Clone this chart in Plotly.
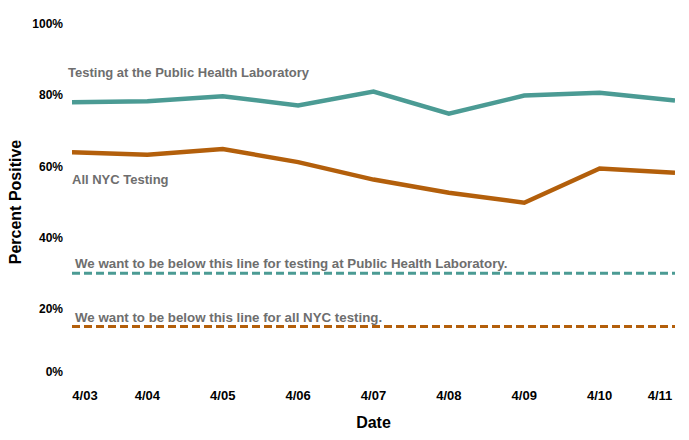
import plotly.graph_objects as go

# ---- data ----
dates = ["4/03", "4/04", "4/05", "4/06", "4/07", "4/08", "4/09", "4/10", "4/11"]
phl_pct = [78.0, 78.3, 79.7, 77.1, 81.0, 74.8, 79.9, 80.7, 78.5]
nyc_pct = [64.0, 63.3, 64.9, 61.2, 56.3, 52.6, 49.8, 59.4, 58.2]
phl_target = 30
nyc_target = 15
y_tick_vals = [0, 20, 40, 60, 80, 100]
y_tick_text = ["0%", "20%", "40%", "60%", "80%", "100%"]

TEAL = "#4b9b94"
ORANGE = "#b35f0b"
GREY = "#6e6e6e"
FONT = "Liberation Sans, Arial, sans-serif"

fig = go.Figure()

fig.add_trace(go.Scatter(x=dates, y=[phl_target] * len(dates), mode="lines",
                         line=dict(color=TEAL, width=3, dash="8px,4px"),
                         hoverinfo="skip", showlegend=False))
fig.add_trace(go.Scatter(x=dates, y=[nyc_target] * len(dates), mode="lines",
                         line=dict(color=ORANGE, width=3, dash="8px,4px"),
                         hoverinfo="skip", showlegend=False))
fig.add_trace(go.Scatter(x=dates, y=phl_pct, mode="lines", name="Testing at the Public Health Laboratory",
                         line=dict(color=TEAL, width=4.5), showlegend=False))
fig.add_trace(go.Scatter(x=dates, y=nyc_pct, mode="lines", name="All NYC Testing",
                         line=dict(color=ORANGE, width=4.5), showlegend=False))

# invisible helper traces so the overlay axes (flush edge labels) get drawn
fig.add_trace(go.Scatter(x=dates, y=phl_pct, xaxis="x2", yaxis="y2", mode="lines",
                         line=dict(width=0), opacity=0, hoverinfo="skip", showlegend=False))
fig.add_trace(go.Scatter(x=dates, y=phl_pct, xaxis="x3", yaxis="y2", mode="lines",
                         line=dict(width=0), opacity=0, hoverinfo="skip", showlegend=False))

tick_font_x = dict(family=FONT, size=13, color="black", weight="bold")
tick_font_y = dict(family=FONT, size=12, color="black", weight="bold")
x_range = [0, len(dates) - 1]

common_x = dict(type="category", categoryorder="array", categoryarray=dates, range=x_range,
                showgrid=False, zeroline=False, showline=False, ticks="",
                tickfont=tick_font_x, ticklabelstandoff=6, fixedrange=True)

fig.update_layout(
    width=689, height=440,
    margin=dict(l=72, r=14, t=24, b=60),
    plot_bgcolor="white", paper_bgcolor="white",
    font=dict(family=FONT),
    xaxis=dict(**common_x, tickvals=dates[1:-1], automargin=True,
               title=dict(text="Date", font=dict(family=FONT, size=16, color="black", weight="bold"),
                          standoff=14)),
    xaxis2=dict(**common_x, overlaying="x", anchor="y", side="bottom", automargin=False,
                tickvals=[dates[0]], ticklabelshift=13),
    xaxis3=dict(**common_x, overlaying="x", anchor="y", side="bottom", automargin=False,
                tickvals=[dates[-1]], ticklabelshift=-15),
    yaxis=dict(range=[0, 100], tickvals=y_tick_vals[1:], ticktext=y_tick_text[1:],
               showgrid=False, zeroline=False, showline=False, ticks="", automargin=True,
               tickfont=tick_font_y, ticklabelstandoff=8, fixedrange=True,
               title=dict(text="Percent Positive",
                          font=dict(family=FONT, size=16, color="black", weight="bold"),
                          standoff=6)),
    yaxis2=dict(range=[0, 100], overlaying="y", anchor="x", side="left",
                tickvals=y_tick_vals[:1], ticktext=y_tick_text[:1], automargin=False,
                showgrid=False, zeroline=False, showline=False, ticks="",
                tickfont=tick_font_y, ticklabelstandoff=8, ticklabelshift=-8, fixedrange=True),
)

ann_font = dict(family=FONT, size=13, color=GREY, weight="bold")
annotations = [
    ("Testing at the Public Health Laboratory", 86.4, -6, 13),
    ("All NYC Testing", 56.3, -2, 13),
    ("We want to be below this line for testing at Public Health Laboratory.", phl_target + 2.7, 1, 13.3),
    ("We want to be below this line for all NYC testing.", nyc_target + 2.6, 1, 13.3),
]
for text, yv, xs, fs in annotations:
    fig.add_annotation(text=text, xref="paper", x=0, yref="y", y=yv, xanchor="left",
                       yanchor="middle", xshift=xs, showarrow=False, font={**ann_font, "size": fs})

# remove the browser's default 8px body margin so the figure sits at the page origin
fig.write_html("out.html", config={"displayModeBar": False},
               post_script="document.body.style.margin='0';")
